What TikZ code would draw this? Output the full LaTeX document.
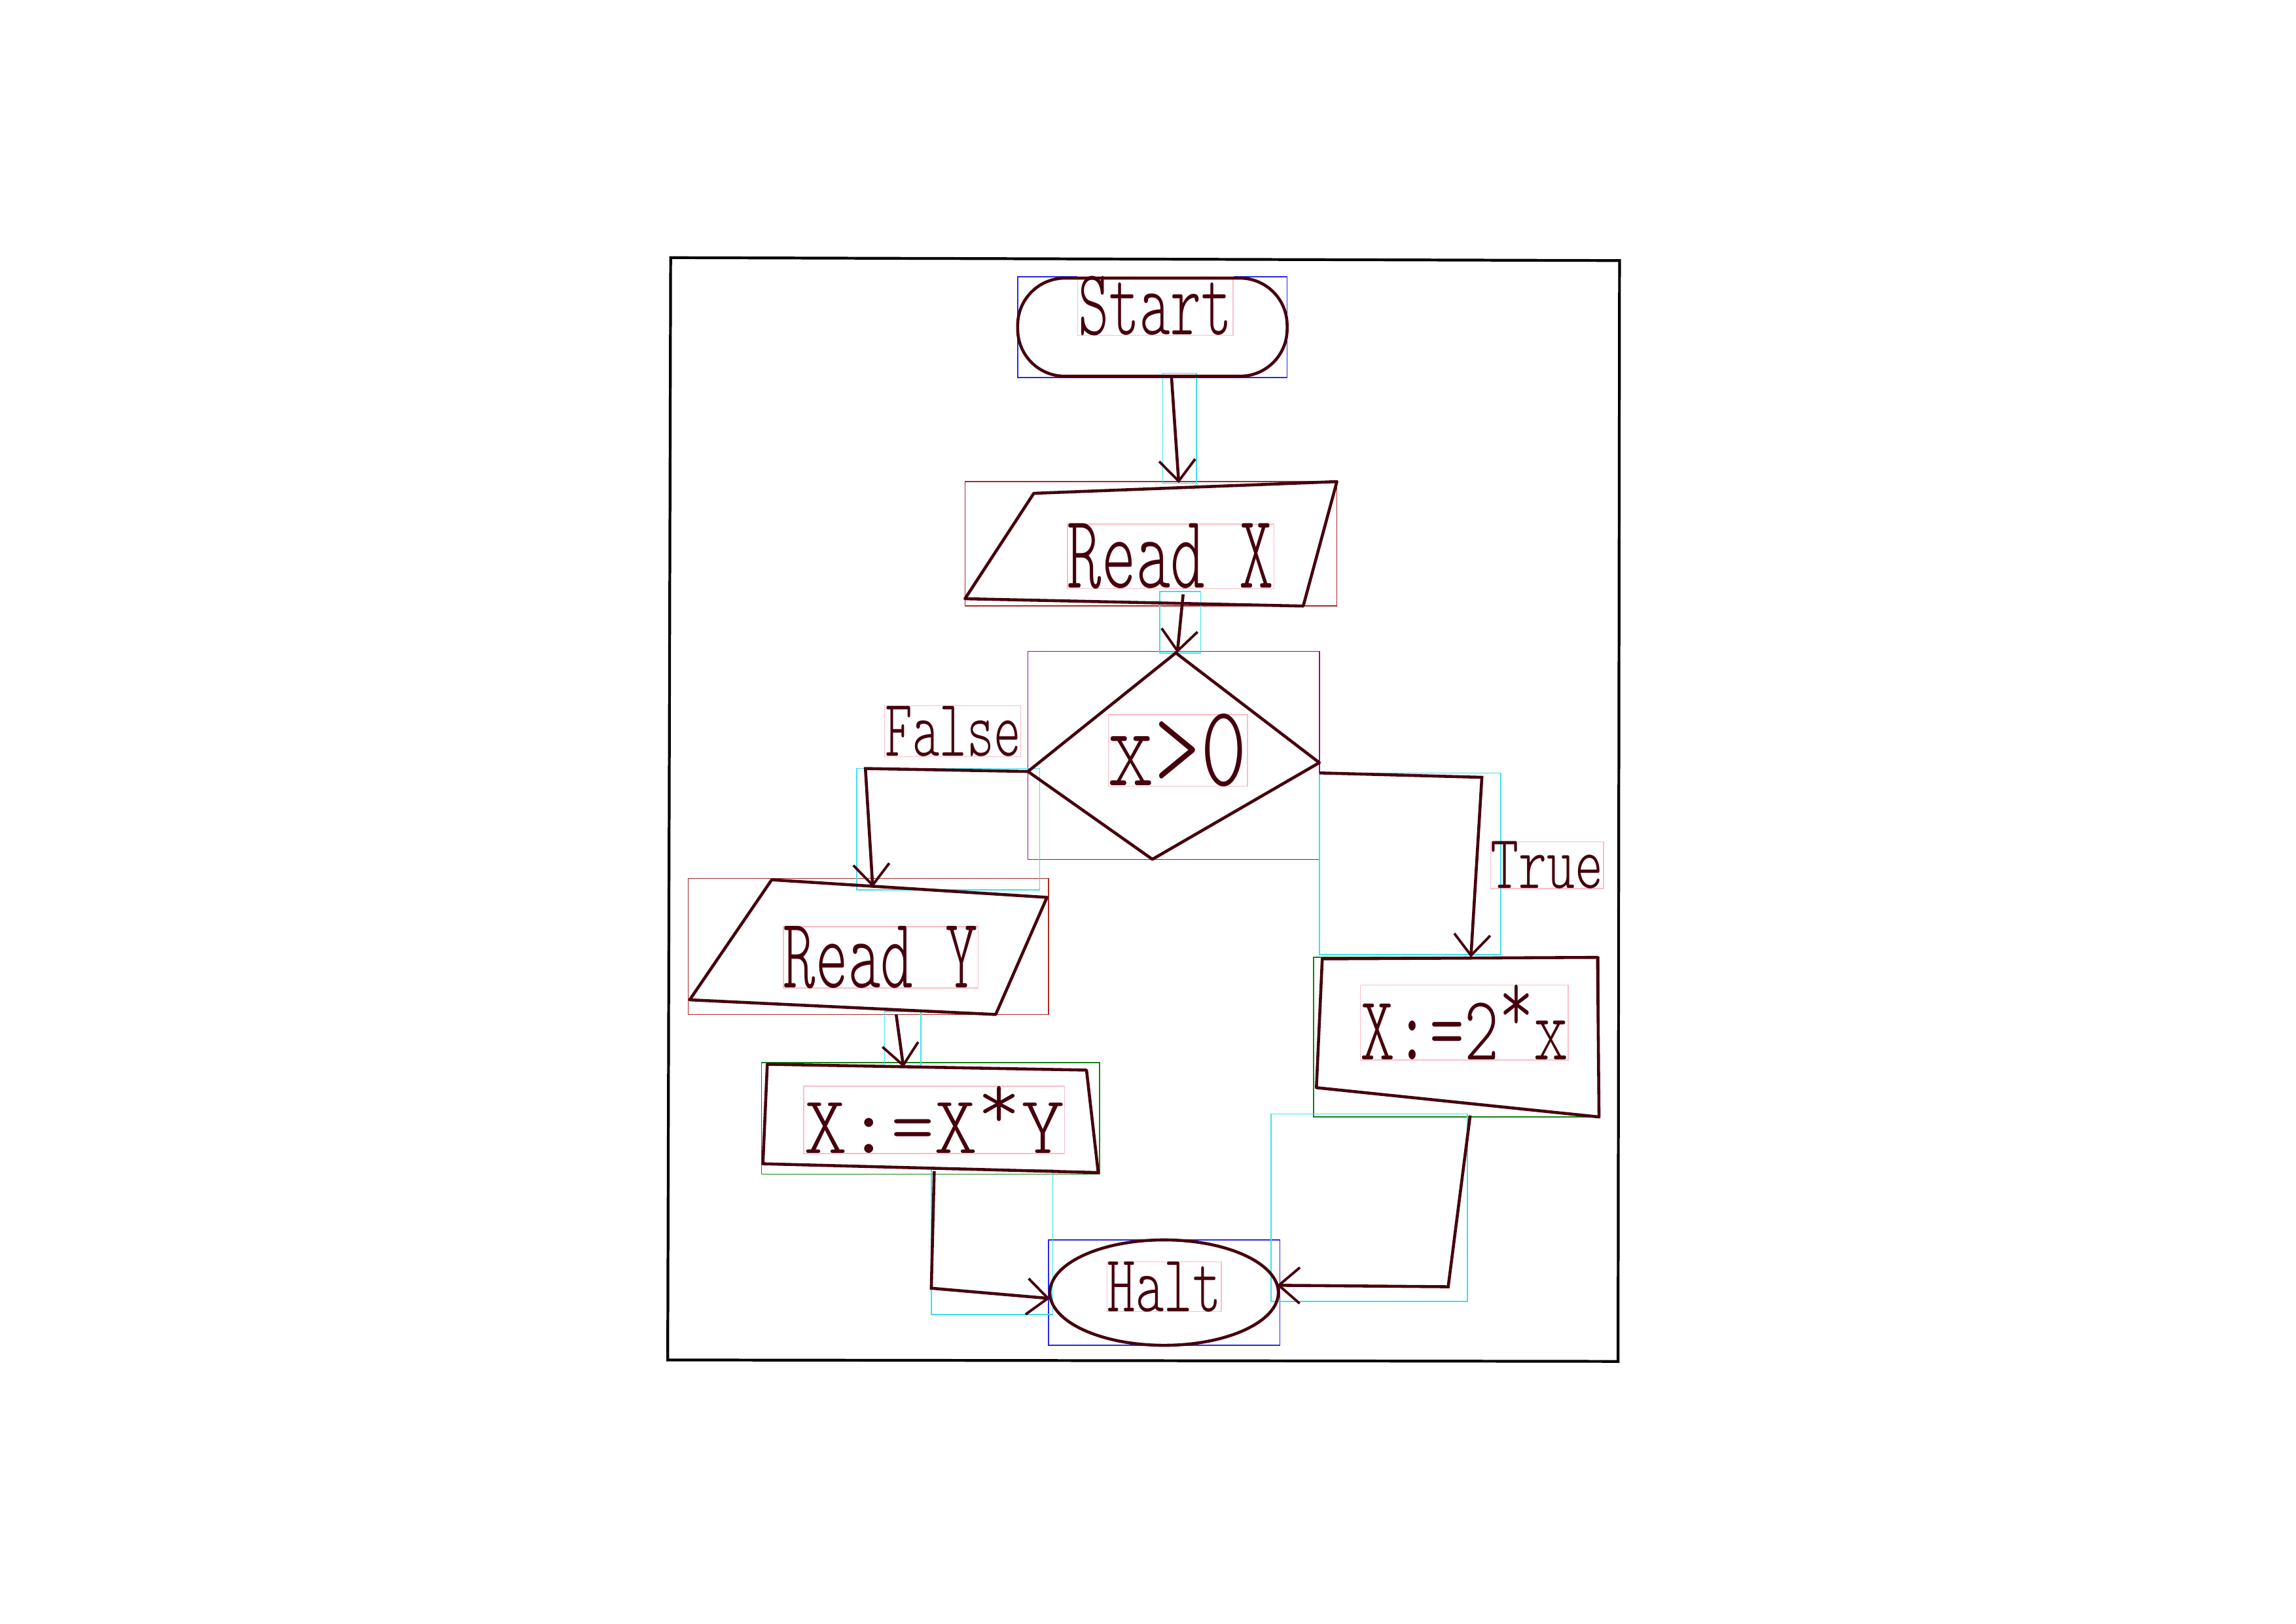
\documentclass[tikz,border=0pt]{standalone}
\usepackage{fontspec}
\setmainfont{Liberation Sans}
\newfontfamily\hand{Latin Modern Mono Light}
\usetikzlibrary{arrows.meta}
\newlength\pxu
\setlength\pxu{0.022372cm}
\newcommand\hw[3]{\resizebox{#1\pxu}{#2\pxu}{\hand #3}}
\newcommand\upstar{\raisebox{0.3em}{*}}
\definecolor{ink}{RGB}{70,0,12}
\definecolor{annblue}{RGB}{40,40,235}
\definecolor{annred}{RGB}{170,40,40}
\definecolor{annpurple}{RGB}{130,20,140}
\definecolor{anngreen}{RGB}{20,130,20}
\definecolor{annpink}{RGB}{250,190,200}
\definecolor{anncyan}{RGB}{60,225,235}
\tikzset{
  shapeline/.style={draw=ink, line width=1.3pt, line join=round},
  txt/.style={inner sep=0pt, text=ink},
  arr/.style={draw=ink, line width=1.3pt, -{Straight Barb[length=3.2mm,width=5.5mm,line width=1.1pt]}},
  ann/.style={line width=0.45pt},
}
\begin{document}
\begin{tikzpicture}[x=0.022372cm,y=-0.022372cm]
\useasboundingbox[fill=white] (0,0) rectangle (1568,1109);

% frame
\draw[black, line width=1.2pt] (458,176) -- (1106,178) -- (1105,930) -- (456,929) -- cycle;

% annotation boxes
\begin{scope}[ann]
\draw[annblue] (695,189) rectangle (879,258);
\draw[annblue] (716,847) rectangle (874,919);
\draw[annred] (659,329) rectangle (913,414);
\draw[annred] (470,600) rectangle (716,693);
\draw[annpurple] (702,445) rectangle (901,587);
\draw[anngreen] (520,726) rectangle (751,802);
\draw[anngreen] (897,654) rectangle (1092,763);
\draw[annpink] (736,189) rectangle (842,229);
\draw[annpink] (729,358) rectangle (870,402);
\draw[annpink] (757,488) rectangle (852,537);
\draw[annpink] (604,482) rectangle (697,517);
\draw[annpink] (1018,575) rectangle (1095,607);
\draw[annpink] (535,633) rectangle (668,675);
\draw[annpink] (929,673) rectangle (1071,724);
\draw[annpink] (549,742) rectangle (727,788);
\draw[annpink] (756,862) rectangle (834,896);
\draw[anncyan] (794,255) rectangle (817,330);
\draw[anncyan] (792,404) rectangle (820,446);
\draw[anncyan] (585,525) rectangle (710,608);
\draw[anncyan] (901,528) rectangle (1025,652);
\draw[anncyan] (604,691) rectangle (629,729);
\draw[anncyan] (636,799) rectangle (719,898);
\draw[anncyan] (868,761) rectangle (1002,889);
\end{scope}

% shapes
\draw[shapeline, rounded corners=0.72cm] (695,190) rectangle (879,257);
\draw[shapeline] (706,337) -- (913,329) -- (890,414) -- (659,409) -- cycle;
\draw[shapeline] (803,446) -- (901,521) -- (787,587) -- (702,527) -- cycle;
\draw[shapeline] (527,601) -- (715,613) -- (680,693) -- (471,683) -- cycle;
\draw[shapeline] (524,727) -- (742,731) -- (750,801) -- (521,795) -- cycle;
\draw[shapeline] (903,655) -- (1091,654) -- (1092,763) -- (899,743) -- cycle;
\draw[shapeline] (795,883) ellipse [x radius=78, y radius=36];

% text nodes
\node[txt] (start) at (789,209) {\hw{105}{40}{Start}};
\node[txt] (readx) at (799.5,380) {\hw{141}{44}{Read X}};
\node[txt] (test) at (804,512.5) {\hw{95}{49}{x>0}};
\node[txt] (ready) at (601.5,654) {\hw{133}{42}{Read Y}};
\node[txt] (mulxy) at (638,765) {\hw{178}{46}{X:=X\upstar Y}};
\node[txt] (dbl) at (1000,698.5) {\hw{142}{51}{X:=2\upstar x}};
\node[txt] (halt) at (795,879) {\hw{78}{34}{Halt}};
\node[txt] (lfalse) at (651,499.5) {\hw{93}{34}{False}};
\node[txt] (ltrue) at (1056.5,591) {\hw{77}{32}{True}};

% connection points
\coordinate (start-s) at (800,257);
\coordinate (readx-n) at (805,330);
\coordinate (readx-s) at (808,406);
\coordinate (test-n) at (804,446);
\coordinate (test-w) at (702,527);
\coordinate (test-e) at (901,528);
\coordinate (ready-n) at (596,606);
\coordinate (ready-s) at (612,693);
\coordinate (mulxy-n) at (617,729);
\coordinate (mulxy-s) at (638,800);
\coordinate (dbl-n) at (1004.5,654);
\coordinate (dbl-s) at (1004,762);
\coordinate (halt-w) at (717,887);
\coordinate (halt-e) at (872,878);

% connectors
\draw[arr] (start-s) -- (readx-n);
\draw[arr] (readx-s) -- (test-n);
\draw[arr] (test-w) -- (591,525) -- (ready-n);
\draw[arr] (test-e) -- (1012,531) -- (dbl-n);
\draw[arr] (ready-s) -- (mulxy-n);
\draw[arr] (mulxy-s) -- (636,880) -- (halt-w);
\draw[arr] (dbl-s) -- (989,879) -- (halt-e);
\end{tikzpicture}
\end{document}
